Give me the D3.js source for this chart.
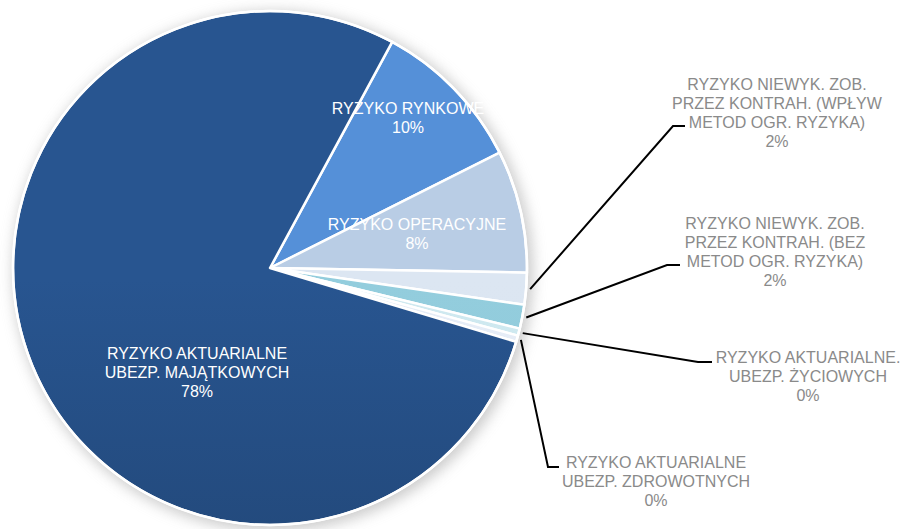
<!DOCTYPE html>
<html>
<head>
<meta charset="utf-8">
<script src="https://cdn.jsdelivr.net/npm/d3@7"></script>
<style>
  html, body { margin: 0; padding: 0; background: #fff; }
  svg { display: block; font-family: "Liberation Sans", Arial, sans-serif; }
</style>
</head>
<body>
<svg id="chart" width="902" height="529"></svg>
<script>
// slices in clockwise order, starting at the top-right edge of the big slice
const categories = [
  ["RYZYKO RYNKOWE"],
  ["RYZYKO OPERACYJNE"],
  ["RYZYKO NIEWYK. ZOB.", "PRZEZ KONTRAH. (WPŁYW", "METOD OGR. RYZYKA)"],
  ["RYZYKO NIEWYK. ZOB.", "PRZEZ KONTRAH. (BEZ", "METOD OGR. RYZYKA)"],
  ["RYZYKO AKTUARIALNE.", "UBEZP. ŻYCIOWYCH"],
  ["RYZYKO AKTUARIALNE", "UBEZP. ZDROWOTNYCH"],
  ["RYZYKO AKTUARIALNE", "UBEZP. MAJĄTKOWYCH"]
]
const values = [9.7, 7.7, 2.0, 1.5, 0.45, 0.4, 78.25]
const colors = ["#5590d8", "#b9cde5", "#dce6f2", "#93cddd", "#cfe9f0", "#e6edf7", "#285590"]
const colorsBottom = ["#4a84cc", "#b3c8e1", "#d6e1ee", "#8cc6d7", "#c8e4ec", "#e0e8f3", "#1e3f6a"]

// label layout: inside labels anchor [x, y]; outside labels anchor + leader elbow
const labelPos = [
  {x: 408, y: 114},
  {x: 417, y: 230},
  {x: 777, y: 90, elbow: [673, 126], end: [685, 126]},
  {x: 775, y: 229, elbow: [667, 265], end: [680, 265]},
  {x: 808, y: 363, elbow: [698, 362], end: [712, 362]},
  {x: 656, y: 468, elbow: [548, 467], end: [559, 467]},
  {x: 197, y: 359}
]

const svg = d3.select("#chart")
const cx = 270, cy = 268, r = 257
const startDeg = 28.4

const defs = svg.append("defs")
const blur = defs.append("filter").attr("id", "shadow")
  .attr("x", "-20%").attr("y", "-20%").attr("width", "140%").attr("height", "140%")
blur.append("feGaussianBlur").attr("stdDeviation", 7)

colors.forEach((c, i) => {
  const g = defs.append("linearGradient").attr("id", "grad" + i)
    .attr("gradientUnits", "userSpaceOnUse")
    .attr("x1", 0).attr("y1", cy - r).attr("x2", 0).attr("y2", cy + r)
  g.append("stop").attr("offset", "0%").attr("stop-color", c)
  g.append("stop").attr("offset", "100%").attr("stop-color", colorsBottom[i])
})

// soft shadow behind the pie
svg.append("circle")
  .attr("cx", cx + 3).attr("cy", cy + 3).attr("r", r + 3)
  .attr("fill", "#a8a8a8").attr("opacity", 0.6)
  .attr("filter", "url(#shadow)")

const start = startDeg * Math.PI / 180
const pie = d3.pie().sort(null).value(d => d)
  .startAngle(start).endAngle(start + 2 * Math.PI)
const arcs = pie(values)
const arc = d3.arc().innerRadius(0).outerRadius(r)

const g = svg.append("g").attr("transform", `translate(${cx},${cy})`)
g.selectAll("path")
  .data(arcs)
  .join("path")
    .attr("d", arc)
    .attr("fill", (d, i) => `url(#grad${i})`)
    .attr("stroke", "#fff")
    .attr("stroke-width", 2.5)
    .attr("stroke-linejoin", "round")

// outer ring
g.append("circle").attr("r", r).attr("fill", "none")
  .attr("stroke", "#fff").attr("stroke-width", 2.5)

const pct = v => Math.round(v) + "%"
const lineH = 19

arcs.forEach((a, i) => {
  const p = labelPos[i]
  const lines = categories[i].concat([pct(values[i])])
  const outside = !!p.elbow
  if (outside) {
    const mid = (a.startAngle + a.endAngle) / 2
    const sx = cx + (r + 4) * Math.sin(mid)
    const sy = cy - (r + 4) * Math.cos(mid)
    svg.append("polyline")
      .attr("points", [[sx, sy], p.elbow, p.end].map(q => q.join(",")).join(" "))
      .attr("fill", "none").attr("stroke", "#000").attr("stroke-width", 2)
  }
  const t = svg.append("text")
    .attr("text-anchor", "middle")
    .attr("font-size", 16)
    .attr("fill", outside ? "#8a8a8a" : "#fff")
  lines.forEach((s, k) => {
    t.append("tspan").attr("x", p.x).attr("y", p.y + k * lineH).text(s)
  })
})
</script>
</body>
</html>
